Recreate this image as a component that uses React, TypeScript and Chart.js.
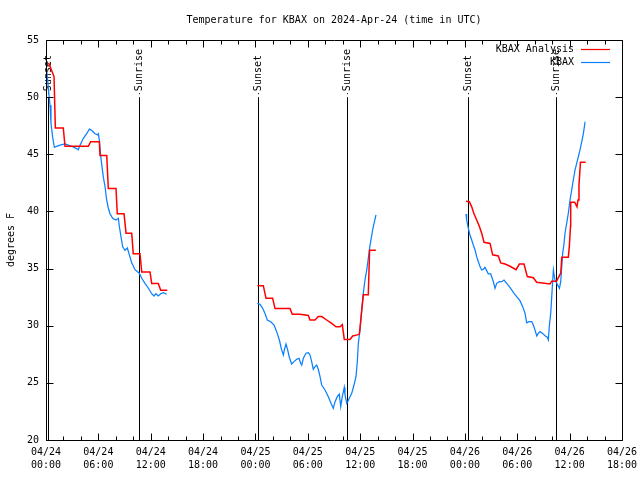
import React, { useEffect, useRef } from "react";
import { Chart, registerables } from "chart.js";

Chart.register(...registerables);

const chartTitle = "Temperature for KBAX on 2024-Apr-24 (time in UTC)";
const yAxisLabel = "degrees F";

const xTickDates = ["04/24", "04/24", "04/24", "04/24", "04/25", "04/25", "04/25", "04/25", "04/26", "04/26", "04/26", "04/26"];
const xTickTimes = ["00:00", "06:00", "12:00", "18:00", "00:00", "06:00", "12:00", "18:00", "00:00", "06:00", "12:00", "18:00"];

// hours since 04/24 00:00 UTC
const sunEventHours = [0.23, 10.66, 24.29, 34.49, 48.36, 58.44];
const sunEventLabels = ["Sunset", "Sunrise", "Sunset", "Sunrise", "Sunset", "Sunrise"];

// KBAX Analysis (red)
const analysisDay1Hours = [0.3, 0.92, 1.07, 1.98, 2.18, 4.85, 5.12, 6.11, 6.19, 6.96, 7.14, 8.02, 8.17, 8.94, 9.17, 9.82, 10.0, 10.77, 10.97, 11.92, 12.11, 12.87, 13.14, 13.9];
const analysisDay1Temps = [53.0, 51.8, 47.3, 47.3, 45.7, 45.7, 46.1, 46.1, 44.9, 44.9, 42.0, 42.0, 39.8, 39.8, 38.1, 38.1, 36.3, 36.3, 34.7, 34.7, 33.7, 33.7, 33.1, 33.1];
const analysisDay2Hours = [24.22, 24.9, 25.21, 25.97, 26.24, 27.96, 28.22, 29.1, 30.06, 30.25, 30.82, 31.2, 31.6, 32.16, 32.73, 33.23, 33.69, 33.95, 34.18, 34.83, 35.14, 35.67, 35.9, 35.98, 36.36, 36.93, 37.08, 37.8];
const analysisDay2Temps = [33.5, 33.5, 32.4, 32.4, 31.5, 31.5, 31.0, 31.0, 30.9, 30.5, 30.5, 30.8, 30.8, 30.5, 30.2, 29.9, 29.9, 30.1, 28.8, 28.8, 29.1, 29.2, 29.25, 29.8, 32.7, 32.7, 36.6, 36.6];
const analysisDay3Hours = [48.13, 48.51, 48.78, 49.04, 49.35, 49.65, 49.92, 50.19, 50.88, 51.18, 51.83, 52.1, 52.6, 53.17, 53.86, 54.24, 54.77, 55.15, 55.84, 56.22, 57.75, 57.95, 58.5, 58.98, 59.1, 59.85, 59.96, 60.1, 60.12, 60.58, 60.84, 60.96, 61.07, 61.24, 61.84];
const analysisDay3Temps = [40.9, 40.85, 40.4, 39.8, 39.25, 38.7, 38.1, 37.3, 37.2, 36.2, 36.1, 35.5, 35.4, 35.2, 34.9, 35.4, 35.4, 34.3, 34.2, 33.8, 33.65, 33.9, 33.9, 34.6, 36.0, 36.0, 36.9, 38.7, 40.8, 40.8, 40.4, 41.0, 42.3, 44.3, 44.3];

// KBAX observations (blue)
const obsDay1Hours = [0.1, 0.3, 0.46, 0.57, 0.76, 0.96, 1.22, 1.6, 2.18, 2.94, 3.51, 3.7, 3.9, 4.28, 4.66, 4.97, 5.23, 5.61, 5.88, 6.0, 6.11, 6.26, 6.42, 6.57, 6.76, 6.95, 7.14, 7.33, 7.64, 8.02, 8.29, 8.4, 8.59, 8.79, 9.05, 9.32, 9.55, 9.82, 10.2, 10.69, 10.97, 11.34, 11.72, 12.11, 12.38, 12.6, 12.87, 13.14, 13.44, 13.83];
const obsDay1Temps = [52.2, 50.5, 49.3, 47.7, 46.5, 45.6, 45.7, 45.8, 45.9, 45.7, 45.5, 45.4, 45.8, 46.4, 46.8, 47.2, 47.1, 46.8, 46.7, 46.8, 46.25, 44.9, 43.9, 43.0, 42.2, 41.0, 40.3, 39.8, 39.4, 39.25, 39.4, 38.7, 37.8, 36.9, 36.6, 36.8, 36.2, 35.5, 34.9, 34.6, 34.15, 33.7, 33.3, 32.8, 32.6, 32.8, 32.6, 32.8, 32.9, 32.75];
const obsDay2Hours = [24.22, 24.52, 24.83, 25.09, 25.36, 25.75, 26.13, 26.43, 26.74, 27.0, 27.2, 27.31, 27.5, 27.69, 27.88, 28.15, 28.42, 28.72, 28.99, 29.18, 29.3, 29.49, 29.79, 30.06, 30.25, 30.44, 30.63, 30.82, 31.02, 31.2, 31.4, 31.59, 31.97, 32.35, 32.66, 32.92, 33.12, 33.38, 33.61, 33.77, 33.95, 34.18, 34.26, 34.46, 34.57, 34.75, 35.03, 35.29, 35.52, 35.67, 35.79, 35.98, 36.17, 36.36, 36.55, 36.75, 37.13, 37.47, 37.81];
const obsDay2Temps = [31.96, 31.87, 31.52, 31.08, 30.5, 30.35, 30.06, 29.48, 28.75, 27.88, 27.44, 27.88, 28.4, 27.88, 27.24, 26.65, 26.86, 27.06, 27.15, 26.71, 26.56, 27.15, 27.59, 27.64, 27.44, 26.86, 26.19, 26.42, 26.56, 26.19, 25.54, 24.81, 24.38, 23.79, 23.21, 22.77, 23.35, 23.79, 24.02, 22.92, 23.79, 24.6, 23.94, 23.21, 23.35, 23.65, 24.08, 24.81, 25.54, 26.85, 28.46, 29.63, 31.38, 32.84, 34.0, 34.87, 37.06, 38.55, 39.69];
const obsDay3Hours = [48.13, 48.2, 48.39, 48.58, 48.78, 48.96, 49.16, 49.35, 49.54, 49.73, 49.92, 50.11, 50.3, 50.5, 50.68, 50.96, 51.07, 51.26, 51.45, 51.64, 51.94, 52.22, 52.48, 52.79, 53.09, 53.36, 53.63, 53.93, 54.31, 54.62, 54.89, 55.08, 55.35, 55.66, 55.84, 56.03, 56.23, 56.41, 56.6, 56.91, 57.18, 57.44, 57.56, 57.67, 57.83, 57.95, 58.06, 58.14, 58.25, 58.33, 58.83, 58.98, 59.2, 59.36, 59.47, 59.66, 59.85, 60.04, 60.24, 60.42, 60.62, 60.81, 61.0, 61.19, 61.39, 61.58, 61.77];
const obsDay3Temps = [39.78, 39.25, 38.52, 37.94, 37.5, 37.06, 36.63, 36.04, 35.6, 35.17, 34.88, 34.94, 35.11, 34.82, 34.53, 34.53, 34.29, 33.85, 33.27, 33.71, 33.85, 33.85, 34.0, 33.71, 33.42, 33.13, 32.84, 32.54, 32.19, 31.67, 31.08, 30.26, 30.35, 30.35, 30.06, 29.63, 29.1, 29.33, 29.48, 29.33, 29.13, 28.99, 28.75, 29.92, 31.08, 32.54, 34.0, 34.87, 34.29, 34.0, 33.27, 33.85, 36.33, 37.21, 38.09, 38.96, 39.84, 41.0, 41.88, 42.75, 43.63, 44.21, 44.79, 45.38, 46.1, 46.83, 47.85];

const analysisColor = "#ff0000";
const obsColor = "#0a80ff";
const FONT = "'DejaVu Sans Mono', monospace";

type Seg = { h: number[]; t: number[] };
function toPoints(segs: Seg[]) {
  const out: { x: number; y: number | null }[] = [];
  segs.forEach((s, i) => {
    if (i > 0) out.push({ x: s.h[0] - 0.01, y: null });
    s.h.forEach((h, j) => out.push({ x: h, y: s.t[j] }));
  });
  return out;
}

const overlayPlugin = {
  id: "overlay",
  beforeDatasetsDraw(chart: any) {
    const ctx = chart.ctx;
    const xs = chart.scales.x;
    const ys = chart.scales.y;
    ctx.save();
    ctx.strokeStyle = "#000";
    ctx.fillStyle = "#000";
    ctx.lineWidth = 1;
    ctx.font = `10px ${FONT}`;
    sunEventHours.forEach((h, i) => {
      const x = Math.round(xs.getPixelForValue(h)) + 0.5;
      const yTop = ys.getPixelForValue(50);
      const yBot = ys.getPixelForValue(20);
      ctx.beginPath();
      ctx.moveTo(x, yTop);
      ctx.lineTo(x, yBot);
      ctx.stroke();
      ctx.fillRect(x - 0.5, yTop - 4, 1, 1);
      ctx.save();
      ctx.translate(x, yTop - 6);
      ctx.rotate(-Math.PI / 2);
      ctx.textAlign = "left";
      ctx.textBaseline = "middle";
      ctx.fillText(sunEventLabels[i], 0, 0);
      ctx.restore();
    });
    ctx.restore();
  },
  afterDraw(chart: any) {
    const ctx = chart.ctx;
    const a = chart.chartArea;
    const xs = chart.scales.x;
    const ys = chart.scales.y;
    ctx.save();
    ctx.strokeStyle = "#000";
    ctx.lineWidth = 1;
    const L = Math.round(a.left) + 0.5;
    const R = Math.round(a.right) + 0.5;
    const T = Math.round(a.top) + 0.5;
    const B = Math.round(a.bottom) + 0.5;
    ctx.beginPath();
    ctx.rect(L, T, R - L, B - T);
    ctx.stroke();
    ctx.beginPath();
    for (let h = xs.min; h <= xs.max; h += 2) {
      const x = Math.round(xs.getPixelForValue(h)) + 0.5;
      const len = h % 6 === 0 ? 7 : 4;
      ctx.moveTo(x, B);
      ctx.lineTo(x, B - len);
      ctx.moveTo(x, T);
      ctx.lineTo(x, T + len);
    }
    ys.ticks.forEach((t: any) => {
      const y = Math.round(ys.getPixelForValue(t.value)) + 0.5;
      ctx.moveTo(L, y);
      ctx.lineTo(L + 7, y);
      ctx.moveTo(R, y);
      ctx.lineTo(R - 7, y);
    });
    ctx.stroke();

    ctx.fillStyle = "#000";
    ctx.font = `10px ${FONT}`;
    ctx.textAlign = "center";
    ctx.textBaseline = "middle";
    ctx.fillText(chartTitle, (a.left + a.right) / 2, 20);

    ctx.save();
    ctx.translate(11, (a.top + a.bottom) / 2);
    ctx.rotate(-Math.PI / 2);
    ctx.fillText(yAxisLabel, 0, 0);
    ctx.restore();

    const ds = chart.data.datasets;
    ds.forEach((d: any, i: number) => {
      const y = 49 + i * 13;
      ctx.textAlign = "right";
      ctx.fillStyle = "#000";
      ctx.fillText(d.label, 574, y);
      ctx.strokeStyle = d.borderColor;
      ctx.lineWidth = 1.2;
      ctx.beginPath();
      ctx.moveTo(581, y + 0.5);
      ctx.lineTo(610, y + 0.5);
      ctx.stroke();
    });
    ctx.restore();
  },
};

export default function App() {
  const ref = useRef<HTMLCanvasElement | null>(null);
  useEffect(() => {
    if (!ref.current) return;
    const chart = new Chart(ref.current, {
      type: "line",
      data: {
        datasets: [
          {
            label: "KBAX Analysis",
            data: toPoints([
              { h: analysisDay1Hours, t: analysisDay1Temps },
              { h: analysisDay2Hours, t: analysisDay2Temps },
              { h: analysisDay3Hours, t: analysisDay3Temps },
            ]),
            borderColor: analysisColor,
            borderWidth: 1.5,
            pointRadius: 0,
            tension: 0,
            spanGaps: false,
          },
          {
            label: "KBAX",
            data: toPoints([
              { h: obsDay1Hours, t: obsDay1Temps },
              { h: obsDay2Hours, t: obsDay2Temps },
              { h: obsDay3Hours, t: obsDay3Temps },
            ]),
            borderColor: obsColor,
            borderWidth: 1.25,
            pointRadius: 0,
            tension: 0,
            spanGaps: false,
          },
        ],
      } as any,
      options: {
        responsive: false,
        animation: false,
        layout: { padding: { top: 40, right: 18, left: 0, bottom: 0 } },
        plugins: { legend: { display: false }, title: { display: false }, tooltip: { enabled: false } },
        scales: {
          x: {
            type: "linear",
            min: 0,
            max: 66,
            grid: { display: false, drawTicks: false },
            border: { display: false },
            ticks: {
              stepSize: 6,
              autoSkip: false,
              maxRotation: 0,
              padding: 6,
              color: "#000",
              font: { family: FONT, size: 10, lineHeight: 1.3 },
              callback: (_v: any, i: number) => [xTickDates[i], xTickTimes[i]],
            },
            afterFit: (s: any) => {
              s.height = 40;
              s.paddingLeft = 0;
              s.paddingRight = 0;
            },
          },
          y: {
            min: 20,
            max: 55,
            grid: { display: false, drawTicks: false },
            border: { display: false },
            ticks: {
              stepSize: 5,
              padding: 7,
              color: "#000",
              font: { family: FONT, size: 10 },
            },
            afterFit: (s: any) => {
              s.width = 46;
              s.paddingTop = 0;
              s.paddingBottom = 0;
            },
          },
        },
      },
      plugins: [overlayPlugin],
    } as any);
    return () => chart.destroy();
  }, []);
  return (
    <div style={{ position: "fixed", left: 0, top: 0, width: 640, height: 480, background: "#fff" }}>
      <canvas ref={ref} width={640} height={480} />
    </div>
  );
}
